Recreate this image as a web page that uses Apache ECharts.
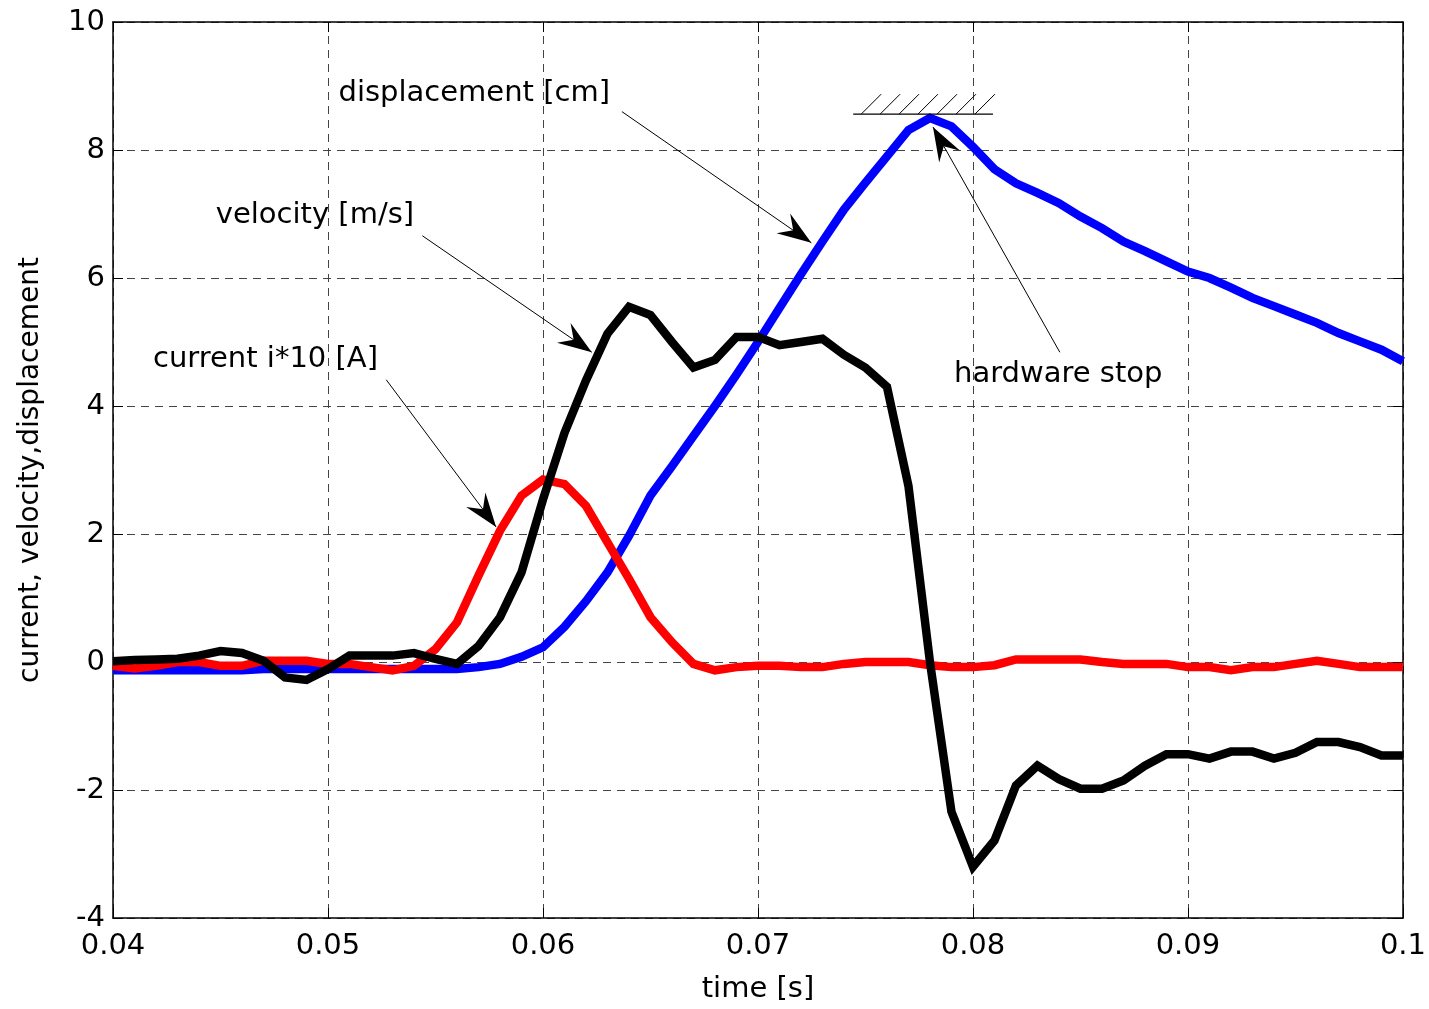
<!DOCTYPE html>
<html>
<head>
<meta charset="utf-8">
<title>current, velocity, displacement</title>
<script src="https://cdn.jsdelivr.net/npm/echarts@6/dist/echarts.min.js"></script>
<style>
  html, body { margin: 0; padding: 0; background: #ffffff; }
  #chart { width: 1429px; height: 1009px; }
</style>
</head>
<body>
<div id="chart"></div>
<script>
// time axis [s]
const time = [
  0.040, 0.041, 0.042, 0.043, 0.044, 0.045, 0.046, 0.047, 0.048, 0.049,
  0.050, 0.051, 0.052, 0.053, 0.054, 0.055, 0.056, 0.057, 0.058, 0.059,
  0.060, 0.061, 0.062, 0.063, 0.064, 0.065, 0.066, 0.067, 0.068, 0.069,
  0.070, 0.071, 0.072, 0.073, 0.074, 0.075, 0.076, 0.077, 0.078, 0.079,
  0.080, 0.081, 0.082, 0.083, 0.084, 0.085, 0.086, 0.087, 0.088, 0.089,
  0.090, 0.091, 0.092, 0.093, 0.094, 0.095, 0.096, 0.097, 0.098, 0.099,
  0.100
];

// current i*10 [A]
const current = [
  -0.06, -0.10, -0.06, 0.00, 0.00, -0.06, -0.06, 0.02, 0.02, 0.02,
  -0.03, -0.03, -0.08, -0.13, -0.06, 0.20, 0.62, 1.35, 2.05, 2.60,
  2.85, 2.78, 2.44, 1.87, 1.30, 0.70, 0.31, -0.03, -0.13, -0.08,
  -0.06, -0.06, -0.08, -0.08, -0.03, 0.00, 0.00, 0.00, -0.05, -0.08,
  -0.08, -0.05, 0.04, 0.04, 0.04, 0.04, 0.00, -0.03, -0.03, -0.03,
  -0.08, -0.08, -0.13, -0.08, -0.08, -0.03, 0.02, -0.03, -0.08, -0.08,
  -0.08
];

// velocity [m/s]
const velocity = [
  0.01, 0.03, 0.04, 0.05, 0.10, 0.17, 0.14, 0.02, -0.24, -0.28,
  -0.11, 0.10, 0.10, 0.10, 0.14, 0.05, -0.03, 0.25, 0.70, 1.40,
  2.54, 3.58, 4.40, 5.13, 5.55, 5.42, 5.00, 4.60, 4.72, 5.08,
  5.08, 4.95, 5.00, 5.05, 4.80, 4.60, 4.30, 2.75, 0.00, -2.34,
  -3.20, -2.79, -1.93, -1.62, -1.83, -1.98, -1.98, -1.85, -1.62, -1.44,
  -1.44, -1.51, -1.40, -1.40, -1.51, -1.42, -1.25, -1.25, -1.33, -1.46,
  -1.46
];

// displacement [cm]
const displacement = [
  -0.13, -0.13, -0.13, -0.13, -0.13, -0.13, -0.13, -0.11, -0.11, -0.11,
  -0.11, -0.11, -0.11, -0.11, -0.11, -0.11, -0.11, -0.08, -0.03, 0.08,
  0.23, 0.55, 0.95, 1.40, 1.97, 2.60, 3.06, 3.53, 4.00, 4.49,
  5.00, 5.53, 6.06, 6.57, 7.07, 7.49, 7.90, 8.31, 8.50, 8.37,
  8.05, 7.70, 7.48, 7.33, 7.17, 6.96, 6.78, 6.57, 6.42, 6.26,
  6.10, 6.00, 5.85, 5.69, 5.56, 5.43, 5.30, 5.14, 5.01, 4.88,
  4.70
];

// annotations, in data coordinates
const labelText = ['displacement [cm]', 'velocity [m/s]', 'current i*10 [A]', 'hardware stop'];
const labelAt = [[0.05049, 8.88], [0.04478, 6.97], [0.04186, 4.73], [0.07912, 4.49]];
const arrowFrom = [[0.06367, 8.60], [0.05439, 6.66], [0.05271, 4.41], [0.08404, 4.84]];
const arrowTo = [[0.07248, 6.55], [0.06227, 4.84], [0.05782, 2.11], [0.07814, 8.36]];
const stopBar = [[0.07443, 8.56], [0.08093, 8.56]];
const hatchStart = [0.07480, 0.07568, 0.07656, 0.07744, 0.07833, 0.07921, 0.08009];

const FONT = '"DejaVu Sans", sans-serif';

function pairs(ys) {
  return time.map((t, i) => [t, ys[i]]);
}

const myChart = echarts.init(document.getElementById('chart'));

const gridLine = { show: true, lineStyle: { color: '#444', width: 1, type: [8, 6] } };

var option = {
  backgroundColor: '#ffffff',
  animation: false,
  grid: { left: 113, right: 21, top: 22, bottom: 89, show: false },
  xAxis: [
    {
      type: 'value',
      min: 0.04,
      max: 0.1,
      interval: 0.01,
      name: 'time [s]',
      nameLocation: 'middle',
      nameGap: 57,
      nameTextStyle: { color: '#000', fontSize: 29, fontFamily: FONT },
      axisLine: { show: true, onZero: false, lineStyle: { color: '#000', width: 1.5 } },
      axisTick: { show: true, inside: true, length: 10, lineStyle: { color: '#000' } },
      axisLabel: {
        color: '#000', fontSize: 29, fontFamily: FONT, margin: 14,
        formatter: v => String(+v.toFixed(2))
      },
      splitLine: gridLine
    },
    {
      type: 'value', position: 'top',
      min: 0.04, max: 0.1, interval: 0.01,
      axisLine: { show: true, onZero: false, lineStyle: { color: '#000', width: 1.5 } },
      axisTick: { show: true, inside: true, length: 10, lineStyle: { color: '#000' } },
      axisLabel: { show: false },
      splitLine: { show: false }
    }
  ],
  yAxis: [
    {
      type: 'value',
      min: -4,
      max: 10,
      interval: 2,
      name: 'current, velocity,displacement',
      nameLocation: 'middle',
      nameGap: 68,
      nameTextStyle: { color: '#000', fontSize: 28, fontFamily: FONT },
      axisLine: { show: true, onZero: false, lineStyle: { color: '#000', width: 1.5 } },
      axisTick: { show: true, inside: true, length: 10, lineStyle: { color: '#000' } },
      axisLabel: { color: '#000', fontSize: 29, fontFamily: FONT, margin: 8 },
      splitLine: gridLine
    },
    {
      type: 'value', position: 'right',
      min: -4, max: 10, interval: 2,
      axisLine: { show: true, onZero: false, lineStyle: { color: '#000', width: 1.5 } },
      axisTick: { show: true, inside: true, length: 10, lineStyle: { color: '#000' } },
      axisLabel: { show: false },
      splitLine: { show: false }
    }
  ],
  series: [
    {
      name: 'displacement [cm]',
      type: 'line',
      data: pairs(displacement),
      showSymbol: false,
      symbol: 'none',
      lineStyle: { color: '#0000ff', width: 8.5, join: 'miter' },
      z: 2
    },
    {
      name: 'current i*10 [A]',
      type: 'line',
      data: pairs(current),
      showSymbol: false,
      symbol: 'none',
      lineStyle: { color: '#ff0000', width: 8.5, join: 'miter' },
      z: 3
    },
    {
      name: 'velocity [m/s]',
      type: 'line',
      data: pairs(velocity),
      showSymbol: false,
      symbol: 'none',
      lineStyle: { color: '#000000', width: 8.5, join: 'miter' },
      z: 4
    }
  ]
};

myChart.setOption(option);

// annotations: text, arrows and the hardware stop hatch
function px(p) {
  return myChart.convertToPixel({ gridIndex: 0 }, p);
}

function arrowHead(from, to) {
  const dx = to[0] - from[0], dy = to[1] - from[1];
  const len = Math.sqrt(dx * dx + dy * dy);
  const ux = dx / len, uy = dy / len;
  const nx = -uy, ny = ux;
  const L = 34, W = 12, N = 22;
  return [
    [to[0], to[1]],
    [to[0] - ux * L + nx * W, to[1] - uy * L + ny * W],
    [to[0] - ux * N, to[1] - uy * N],
    [to[0] - ux * L - nx * W, to[1] - uy * L - ny * W]
  ];
}

let graphics = [];
for (let i = 0; i < labelText.length; i++) {
  const at = px(labelAt[i]);
  graphics.push({
    type: 'text', z: 10,
    style: { text: labelText[i], x: at[0], y: at[1], font: '29px ' + FONT, fill: '#000', verticalAlign: 'middle' }
  });
  const a = px(arrowFrom[i]), b = px(arrowTo[i]);
  graphics.push({
    type: 'line', z: 10,
    shape: { x1: a[0], y1: a[1], x2: b[0], y2: b[1] },
    style: { stroke: '#000', lineWidth: 1 }
  });
  graphics.push({
    type: 'polygon', z: 11,
    shape: { points: arrowHead(a, b) },
    style: { fill: '#000' }
  });
}

const s0 = px(stopBar[0]), s1 = px(stopBar[1]);
graphics.push({
  type: 'line', z: 10,
  shape: { x1: s0[0], y1: s0[1], x2: s1[0], y2: s1[1] },
  style: { stroke: '#000', lineWidth: 1.2 }
});
hatchStart.forEach(h => {
  const p = px([h, stopBar[0][1]]);
  graphics.push({
    type: 'line', z: 10,
    shape: { x1: p[0], y1: p[1], x2: p[0] + 20, y2: p[1] - 20 },
    style: { stroke: '#000', lineWidth: 1 }
  });
});

myChart.setOption({ graphic: graphics });
</script>
</body>
</html>
